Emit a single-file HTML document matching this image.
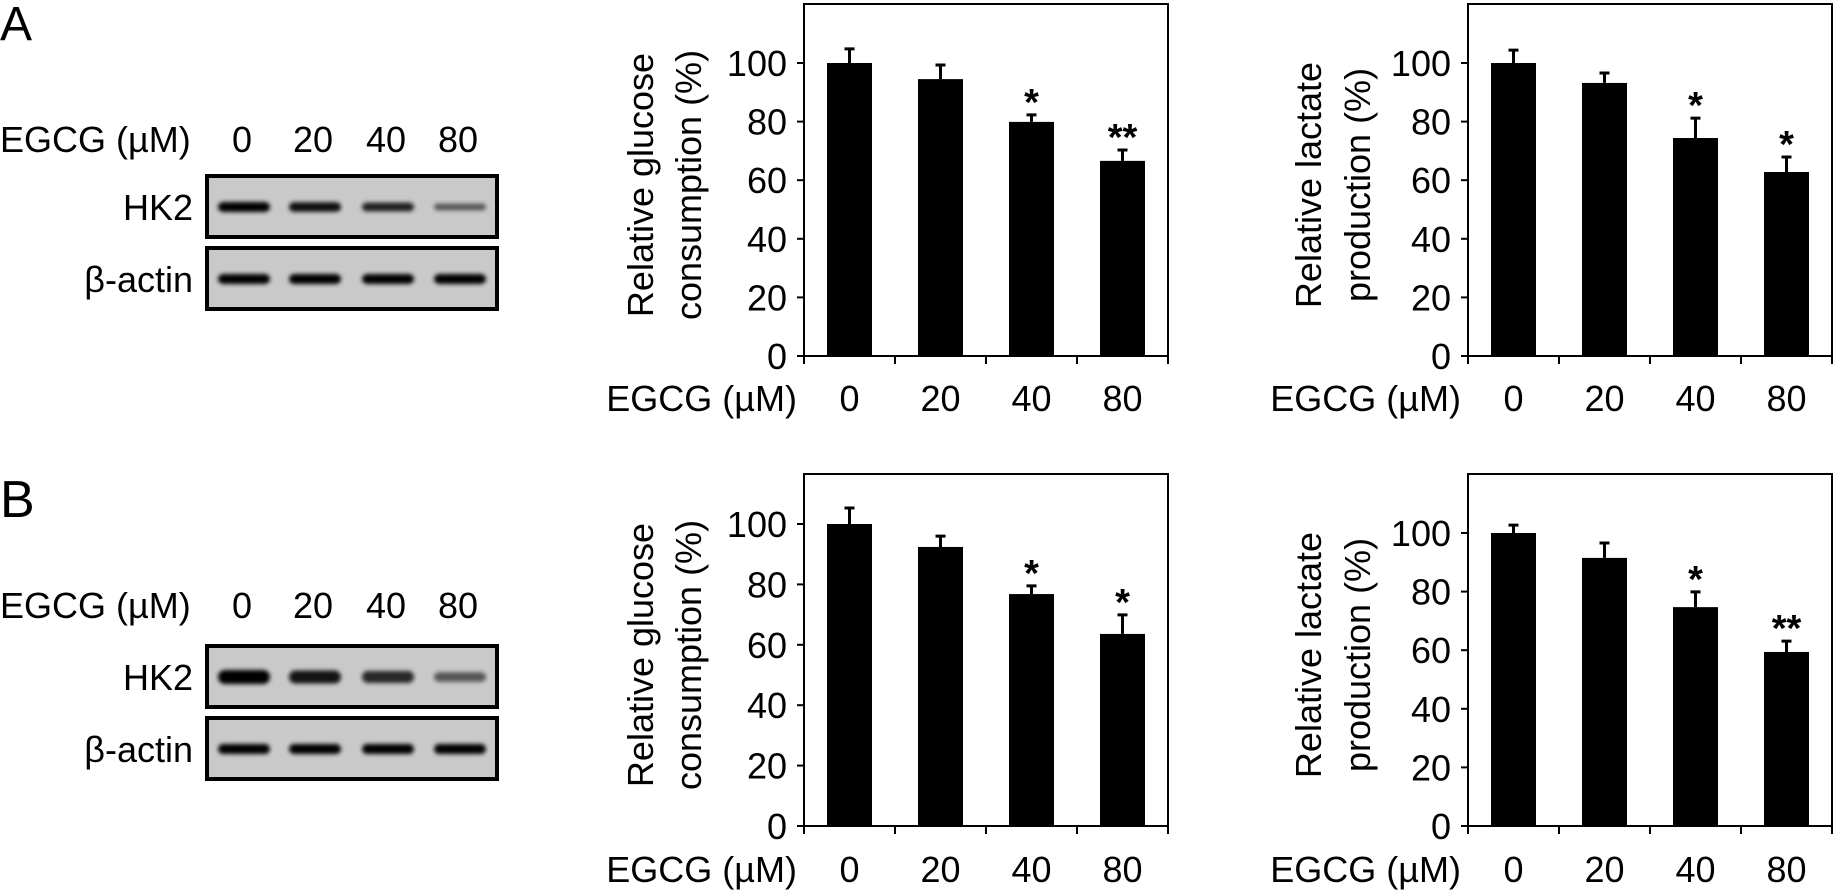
<!DOCTYPE html>
<html><head><meta charset="utf-8">
<style>
html,body{margin:0;padding:0;background:#fff;}
svg{display:block;font-family:"Liberation Sans",Arial,sans-serif;}
</style></head>
<body>
<svg id="fig" width="1834" height="892" viewBox="0 0 1834 892" xmlns="http://www.w3.org/2000/svg">
<defs>
  <filter id="blur" x="-20%" y="-100%" width="140%" height="300%"><feGaussianBlur stdDeviation="2.2"/></filter>
</defs>
<text x="0" y="40" font-size="48">A</text>
<text x="0" y="517" font-size="52">B</text>
<g id="blots"></g>
<g id="charts"></g>
</svg>
<script>
const categories = ['0', '20', '40', '80'];
const yTicks = [0, 20, 40, 60, 80, 100];
const a1Values = [100, 94.5, 79.9, 66.6];
const a1Err = [4.8, 4.8, 2.4, 3.7];
const a1Sig = ['', '', '*', '**'];
const a2Values = [100, 93.2, 74.4, 62.8];
const a2Err = [4.4, 3.4, 6.8, 5.1];
const a2Sig = ['', '', '*', '*'];
const b1Values = [100, 92.4, 76.8, 63.6];
const b1Err = [5.3, 3.6, 2.7, 6.3];
const b1Sig = ['', '', '*', '*'];
const b2Values = [100, 91.5, 74.7, 59.4];
const b2Err = [2.7, 5.1, 5.2, 3.7];
const b2Sig = ['', '', '*', '**'];
const blotAHK2 = [1.0, 0.9, 0.75, 0.35];
const blotAActin = [1.0, 1.0, 1.0, 1.0];
const blotBHK2 = [1.0, 0.85, 0.7, 0.35];
const blotBActin = [1.0, 1.0, 1.0, 1.0];

const NS = 'http://www.w3.org/2000/svg';
function mk(tag, attrs, parent, text) {
  const e = document.createElementNS(NS, tag);
  for (const k in attrs) e.setAttribute(k, attrs[k]);
  if (text !== undefined) e.textContent = text;
  parent.appendChild(e);
  return e;
}

function drawChart(id, cfg, values, errs, sigs, label1, label2) {
  const g = mk('g', {}, document.getElementById('charts'));
  
  
  const yScale = v => cfg.y0 - (cfg.y0 - cfg.y100) * v / 100;
  const slot = (cfg.right - cfg.left) / categories.length;
  const xCenter = i => cfg.left + (i + 0.5) * slot;
  const fr = mk('rect', {x: cfg.left, y: cfg.top, width: cfg.right - cfg.left, height: cfg.y0 - cfg.top, fill: 'none', stroke: '#000', 'stroke-width': 2}, g);
  
  
  yTicks.forEach(t => {
    const y = yScale(t);
    const tk = mk('line', {x1: cfg.left - 7, x2: cfg.left, y1: y, y2: y, stroke: '#000', 'stroke-width': 2}, g);
    
    
    const tl = mk('text', {x: cfg.left - 17, y: y + 13, 'font-size': 36, 'text-anchor': 'end'}, g, String(t));
    
    
  });
  for (let i = 0; i <= categories.length; i++) {
    const x = cfg.left + i * slot;
    const tk = mk('line', {x1: x, x2: x, y1: cfg.y0, y2: cfg.y0 + 8, stroke: '#000', 'stroke-width': 2}, g);
    
    
  }
  values.forEach((v, i) => {
    const cx = xCenter(i);
    const yt = yScale(v);
    const b = mk('rect', {x: cx - 22.5, y: yt, width: 45, height: cfg.y0 - yt, fill: '#000'}, g);
    
    
    const ye = yScale(v + errs[i]);
    const el = mk('path', {d: `M${cx} ${yt} V${ye} M${cx - 5} ${ye} H${cx + 5}`, stroke: '#000', 'stroke-width': 3, fill: 'none'}, g);
    
    
    if (sigs[i]) {
      const s = mk('text', {x: cx, y: ye - 22 + 22, 'font-size': 38, 'font-weight': 'bold', 'text-anchor': 'middle'}, g, sigs[i]);
      
      
    }
    const xl = mk('text', {x: cx, y: cfg.xlabY, 'font-size': 36, 'text-anchor': 'middle'}, g, categories[i]);
    
    
  });
  const xt = mk('text', {x: cfg.left - 7, y: cfg.xlabY, 'font-size': 36, 'text-anchor': 'end'}, g, 'EGCG (\u00b5M)');
  
  
  const cy = (cfg.top + cfg.y0) / 2 + 5;
  const yt1 = mk('text', {x: 0, y: 0, 'font-size': 36, 'text-anchor': 'middle', transform: `translate(${cfg.lab1x + 13},${cy}) rotate(-90)`}, g, label1);
  
  
  const yt2 = mk('text', {x: 0, y: 0, 'font-size': 36, 'text-anchor': 'middle', transform: `translate(${cfg.lab2x + 13},${cy}) rotate(-90)`}, g, label2);
  
  
}

drawChart('chart-a-glucose', {left: 804, right: 1168, top: 4, y0: 356, y100: 63, xlabY: 411, lab1x: 640, lab2x: 688}, a1Values, a1Err, a1Sig, 'Relative glucose', 'consumption (%)');
drawChart('chart-a-lactate', {left: 1468, right: 1832, top: 4, y0: 356, y100: 63, xlabY: 411, lab1x: 1308, lab2x: 1357}, a2Values, a2Err, a2Sig, 'Relative lactate', 'production (%)');
drawChart('chart-b-glucose', {left: 804, right: 1168, top: 474, y0: 826, y100: 524, xlabY: 882, lab1x: 640, lab2x: 688}, b1Values, b1Err, b1Sig, 'Relative glucose', 'consumption (%)');
drawChart('chart-b-lactate', {left: 1468, right: 1832, top: 474, y0: 826, y100: 533, xlabY: 882, lab1x: 1308, lab2x: 1357}, b2Values, b2Err, b2Sig, 'Relative lactate', 'production (%)');

function drawBlot(id, cfg, hk2, actin, thick) {
  const g = mk('g', {}, document.getElementById('blots'));
  
  
  const lanes = [244, 315, 388, 460];
  const hdr = mk('text', {x: 0, y: cfg.hdrY, 'font-size': 36}, g, 'EGCG (\u00b5M)');
  
  
  categories.forEach((c, i) => {
    const t = mk('text', {x: lanes[i] - 2, y: cfg.hdrY, 'font-size': 36, 'text-anchor': 'middle'}, g, c);
    
    
  });
  [[cfg.hkTop, 'HK2', hk2, 'hk2'], [cfg.acTop, '\u03b2-actin', actin, 'actin']].forEach(([top, name, arr, key]) => {
    const box = mk('rect', {x: 207, y: top, width: 290, height: 61, fill: '#c9c9c9', stroke: '#000', 'stroke-width': 4}, g);
    
    
    const lbl = mk('text', {x: 193, y: top + 44, 'font-size': 36, 'text-anchor': 'end'}, g, name);
    
    
    arr.forEach((v, i) => {
      const h = (key === 'hk2' ? thick : 10) * (0.5 + 0.5 * v);
      const band = mk('rect', {x: lanes[i] - 26, y: top + 31 - h / 2, width: 52, height: h, rx: h / 2, fill: '#000', opacity: 0.35 + 0.65 * v, filter: 'url(#blur)'}, g);
      
      
    });
  });
}
drawBlot('blot-a', {hdrY: 152, hkTop: 176, acTop: 248}, blotAHK2, blotAActin, 10);
drawBlot('blot-b', {hdrY: 618, hkTop: 646, acTop: 718}, blotBHK2, blotBActin, 14);
</script>
</body></html>
